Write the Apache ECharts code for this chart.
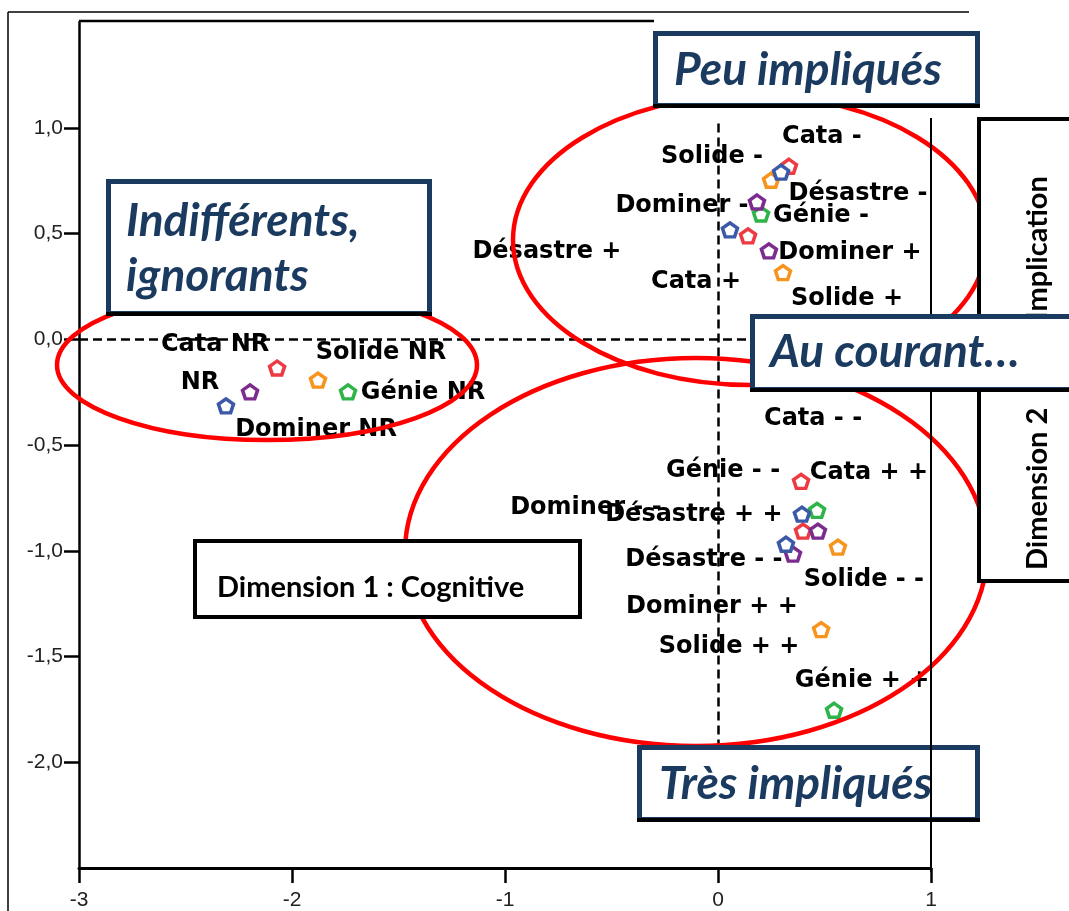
<!DOCTYPE html>
<html>
<head>
<meta charset="utf-8">
<script src="https://cdn.jsdelivr.net/npm/echarts@6/dist/echarts.min.js"></script>
<style>
html, body { margin: 0; padding: 0; background: #fff; }
#chart { width: 1069px; height: 911px; }
</style>
</head>
<body>
<div id="chart"></div>
<script>
// axis ticks
const xTicks = [-3, -2, -1, 0, 1];
const yTicks = [-2.0, -1.5, -1.0, -0.5, 0.0, 0.5, 1.0];

// category coordinates (dimension 1, dimension 2), one set per variable
const cataLabels = ['Cata NR', 'Cata -', 'Cata +', 'Cata - -', 'Cata + +'];
const cataX = [-2.070, 0.333, 0.141, 0.390, 0.399];
const cataY = [-0.136, 0.818, 0.489, -0.672, -0.907];

const solideLabels = ['Solide NR', 'Solide -', 'Solide +', 'Solide - -', 'Solide + +'];
const solideX = [-1.878, 0.249, 0.305, 0.563, 0.484];
const solideY = [-0.193, 0.752, 0.315, -0.983, -1.373];

const genieLabels = ['Génie NR', 'Génie -', 'Génie - -', 'Génie + +'];
const genieX = [-1.737, 0.202, 0.465, 0.545];
const genieY = [-0.249, 0.592, -0.809, -1.754];

const dominerLabels = ['Dominer NR', 'Dominer -', 'Dominer +', 'Dominer - -', 'Dominer + +'];
const dominerX = [-2.197, 0.183, 0.239, 0.469, 0.352];
const dominerY = [-0.249, 0.649, 0.418, -0.907, -1.016];

const desastreLabels = ['NR', 'Désastre -', 'Désastre +', 'Désastre - -', 'Désastre + +'];
const desastreX = [-2.310, 0.296, 0.056, 0.319, 0.394];
const desastreY = [-0.315, 0.790, 0.517, -0.969, -0.827];

// where each label sits relative to its point (px)
const labelOffsets = {
  'Cata NR': [-62, -23], 'Cata -': [33, -29], 'Cata +': [-52, 46], 'Cata - -': [12, -63], 'Cata + +': [66, -58],
  'Solide NR': [63, -27], 'Solide -': [-59, -23], 'Solide +': [64, 26], 'Solide - -': [26, 33], 'Solide + +': [-92, 17],
  'Génie NR': [75, 1], 'Génie -': [60, 2], 'Génie - -': [-94, -40], 'Génie + +': [28, -29],
  'Dominer NR': [66, 38], 'Dominer -': [-75, 4], 'Dominer +': [81, 2], 'Dominer - -': [-232, -23], 'Dominer + +': [-81, 53],
  'NR': [-26, -23], 'Désastre -': [77, 22], 'Désastre +': [-183, 22], 'Désastre - -': [-82, 16], 'Désastre + +': [-108, 1]
};

const pentagon = 'path://M10,0 L19.51,6.91 L15.88,18.09 L4.12,18.09 L0.49,6.91 Z';

function makeSeries(name, labels, xs, ys, color) {
  return {
    type: 'scatter',
    name: name,
    symbol: pentagon,
    symbolSize: [15, 14],
    itemStyle: { color: '#fff', borderColor: color, borderWidth: 3.5, opacity: 1 },
    label: {
      show: true,
      position: 'inside',
      formatter: '{b}',
      color: '#000',
      textBorderWidth: 0,
      textBorderColor: 'transparent',
      fontFamily: 'DejaVu Sans',
      fontWeight: 'bold',
      fontSize: 24,
      align: 'center',
      verticalAlign: 'middle'
    },
    emphasis: { disabled: true },
    data: labels.map((l, i) => ({ name: l, value: [xs[i], ys[i]], label: { offset: labelOffsets[l] } }))
  }
}

const series = [
  makeSeries('Cata', cataLabels, cataX, cataY, '#ee3a43'),
  makeSeries('Solide', solideLabels, solideX, solideY, '#f7941d'),
  makeSeries('Génie', genieLabels, genieX, genieY, '#2fb44a'),
  makeSeries('Dominer', dominerLabels, dominerX, dominerY, '#7b2c8e'),
  makeSeries('Désastre', desastreLabels, desastreX, desastreY, '#3c59a8')
]

// reference lines through the origin
series[0].markLine = {
  silent: true,
  symbol: 'none',
  label: { show: false },
  lineStyle: { color: '#000', type: [9, 5], width: 2.5, opacity: 1 },
  data: [
    [{ coord: [0, 1.02] }, { coord: [0, -1.98] }],
    [{ coord: [-3, 0] }, { coord: [1, 0] }]
  ]
}

const navy = '#1b3a5f'
const titleFont = 'italic bold 46px Lato'
const dimFont = 'bold 29px Lato'

function box(x, y, w, h, stroke, lw, z) {
  return { type: 'rect', z: z, shape: { x: x, y: y, width: w, height: h }, style: { fill: '#fff', stroke: stroke, lineWidth: lw } }
}
function label(text, x, y, font, fill, z, rotation) {
  return {
    type: 'text', z: z, x: x, y: y, rotation: rotation || 0,
    style: { text: text, x: 0, y: 0, font: font, fill: fill, align: 'left', verticalAlign: 'middle' }
  }
}
function hline(x1, x2, y, lw, z) {
  return { type: 'line', z: z, shape: { x1: x1, y1: y, x2: x2, y2: y }, style: { stroke: '#000', lineWidth: lw } }
}
function vline(x, y1, y2, lw, z) {
  return { type: 'line', z: z, shape: { x1: x, y1: y1, x2: x, y2: y2 }, style: { stroke: '#000', lineWidth: lw } }
}

const ellipseStyle = { fill: 'none', stroke: '#ff0000', lineWidth: 4.5 }

const graphic = [
  // outer frame and open plot frame
  hline(8, 969, 12, 1.5, 5),
  vline(8, 12, 911, 1.5, 5),
  hline(79, 654, 21, 2.5, 5),
  // group ellipses
  { type: 'ellipse', z: 10, shape: { cx: 267, cy: 365, rx: 210, ry: 75 }, style: ellipseStyle },
  { type: 'ellipse', z: 10, shape: { cx: 750, cy: 240, rx: 237, ry: 145 }, style: ellipseStyle },
  { type: 'ellipse', z: 10, shape: { cx: 696, cy: 552, rx: 291, ry: 194 }, style: ellipseStyle },
  // boxes
  box(108.5, 181.5, 321, 132, navy, 5, 20),
  hline(106, 432, 314, 4, 20),
  label('Indifférents,', 126, 221, titleFont, navy, 21),
  label('ignorants', 126, 276, titleFont, navy, 21),

  box(655.5, 33.5, 322, 72, navy, 5, 20),
  hline(653, 980, 106, 4, 20),
  label('Peu impliqués', 674, 70, titleFont, navy, 21),

  box(639.5, 747.5, 338, 72, navy, 5, 20),
  hline(637, 980, 820, 4, 20),
  label('Très impliqués', 659, 784, titleFont, navy, 21),

  box(195, 541, 385, 76, '#000', 4, 20),
  label('Dimension 1 : Cognitive', 217, 588, dimFont, '#000', 21),

  box(979, 119, 100, 462, '#000', 4, 20),
  label('Dimension 2', 1038, 570, dimFont, '#000', 21, Math.PI / 2),
  label('Implication', 1038, 320, dimFont, '#000', 21, Math.PI / 2),

  // right edge of the plot runs over the lower box
  vline(931, 118, 872, 2, 21.5),

  box(752.5, 316.5, 330, 73, navy, 5, 22),
  hline(750, 1069, 390, 4, 22),
  label('Au courant…', 770, 352, titleFont, navy, 23)
]

const chart = echarts.init(document.getElementById('chart'), null, { renderer: 'canvas' })

const axisFont = { fontFamily: 'Liberation Sans', fontSize: 21, color: '#222' }

chart.setOption({
  animation: false,
  backgroundColor: '#fff',
  grid: { left: 79, top: 22, width: 852, height: 850 },
  xAxis: {
    type: 'value',
    min: xTicks[0],
    max: xTicks[xTicks.length - 1],
    interval: 1,
    axisLine: { onZero: false, lineStyle: { color: '#000', width: 3 } },
    axisTick: { length: 15, lineStyle: { color: '#000', width: 2.5 } },
    axisLabel: Object.assign({ margin: 22 }, axisFont),
    splitLine: { show: false }
  },
  yAxis: {
    type: 'value',
    min: -2.5,
    max: 1.5,
    interval: 0.5,
    axisLine: { onZero: false, lineStyle: { color: '#000', width: 2.5 } },
    axisTick: { length: 15, customValues: yTicks, lineStyle: { color: '#000', width: 2.5 } },
    axisLabel: Object.assign({
      margin: 16,
      customValues: yTicks,
      formatter: v => v.toFixed(1).replace('.', ',')
    }, axisFont),
    splitLine: { show: false }
  },
  series: series,
  graphic: graphic
})
</script>
</body>
</html>
